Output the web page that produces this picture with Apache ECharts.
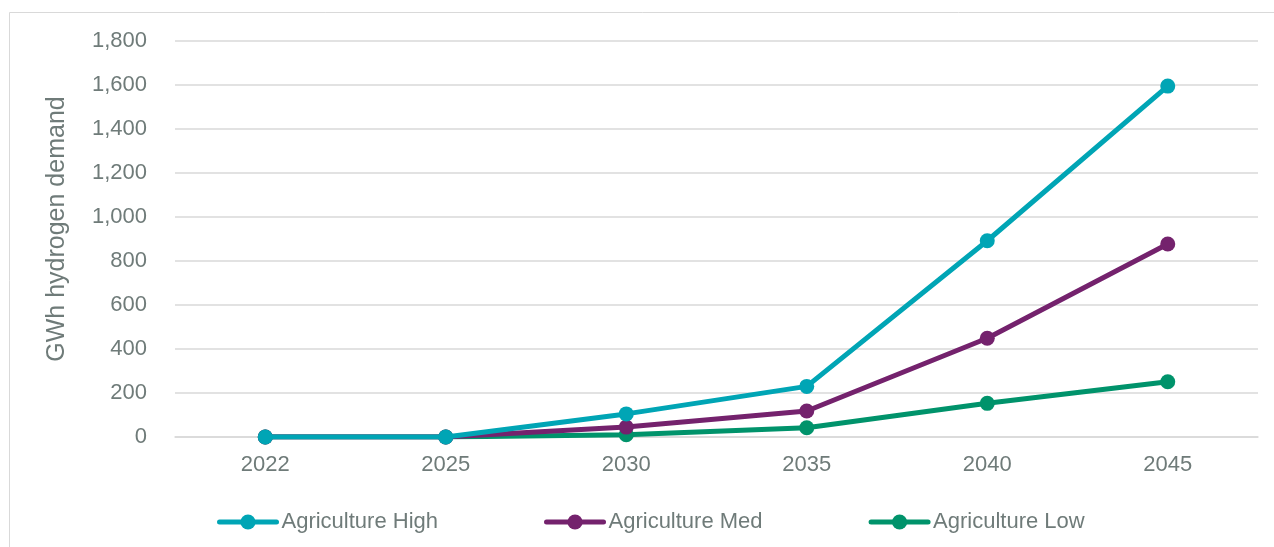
<!DOCTYPE html>
<html>
<head>
<meta charset="utf-8">
<script src="https://cdn.jsdelivr.net/npm/echarts@6/dist/echarts.min.js"></script>
<style>
  html, body { margin: 0; padding: 0; background: #ffffff; }
  #chart { width: 1274px; height: 547px; }
</style>
</head>
<body>
<div id="chart"></div>
<script>
// Hydrogen demand from agriculture, by scenario (GWh)
const years = ['2022', '2025', '2030', '2035', '2040', '2045'];
const agricultureHigh = [0, 0, 105, 230, 892, 1595];
const agricultureMed = [0, 0, 45, 118, 449, 877];
const agricultureLow = [0, 0, 10, 42, 153, 251];

const seriesNames = ['Agriculture High', 'Agriculture Med', 'Agriculture Low'];
const seriesColors = ['#00A5B5', '#74226D', '#00936B'];
const seriesData = [agricultureHigh, agricultureMed, agricultureLow];

const textColor = '#6F7B79';
const fontFamily = '"Liberation Sans", Arial, sans-serif';

const chart = echarts.init(document.getElementById('chart'), null, { renderer: 'canvas' });

chart.setOption({
  backgroundColor: '#ffffff',
  animation: false,
  graphic: [{
    type: 'rect',
    shape: { x: 9.5, y: 12.5, width: 1400, height: 700 },
    style: { fill: 'none', stroke: '#D9D9D9', lineWidth: 1 },
    silent: true,
    z: -1
  }],
  grid: { left: 175, right: 16, top: 41, bottom: 110 },
  legend: {
    data: seriesNames,
    left: 217,
    top: 511,
    padding: 0,
    itemWidth: 57,
    itemHeight: 19,
    itemGap: 106,
    lineStyle: { width: 5, cap: 'round' },
    textStyle: { color: textColor, fontSize: 22, fontFamily: fontFamily }
  },
  xAxis: {
    type: 'category',
    data: years,
    boundaryGap: true,
    axisLine: { show: true, lineStyle: { color: '#D9D9D9', width: 1.5 } },
    axisTick: { show: false },
    axisLabel: { color: textColor, fontSize: 22, fontFamily: fontFamily, margin: 17 }
  },
  yAxis: {
    type: 'value',
    min: 0,
    max: 1800,
    interval: 200,
    name: 'GWh hydrogen demand',
    nameLocation: 'middle',
    nameRotate: 90,
    nameGap: 105,
    nameTextStyle: { color: textColor, fontSize: 25, fontFamily: fontFamily, padding: [0, 0, 0, 20] },
    axisLine: { show: false },
    axisTick: { show: false },
    splitLine: { lineStyle: { color: '#D9D9D9', width: 1.5 } },
    axisLabel: {
      color: textColor,
      fontSize: 22,
      fontFamily: fontFamily,
      margin: 28,
      formatter: function (v) { return v.toLocaleString('en-US'); }
    }
  },
  series: seriesNames.map(function (name, i) {
    return {
      name: name,
      type: 'line',
      data: seriesData[i],
      symbol: 'circle',
      symbolSize: 15,
      lineStyle: { width: 5, color: seriesColors[i] },
      itemStyle: { color: seriesColors[i] },
      z: 10 - i
    };
  })
});
</script>
</body>
</html>
